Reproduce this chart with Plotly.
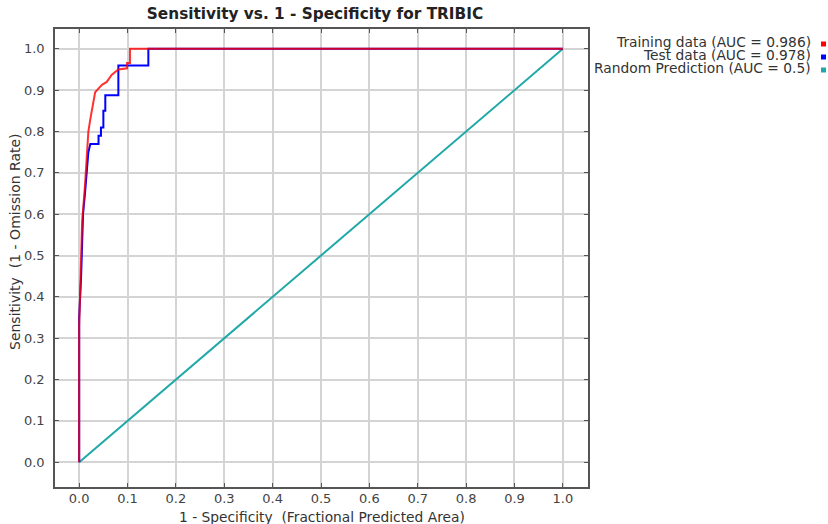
import plotly.graph_objects as go

# Training data ROC (red)
train_fpr = [0.0, 0.0, 0.003, 0.006, 0.012, 0.019, 0.023, 0.026, 0.030, 0.033, 0.037, 0.047,
             0.057, 0.067, 0.081, 0.099, 0.099, 0.105, 0.105, 1.0]
train_tpr = [0.0, 0.33, 0.45, 0.58, 0.67, 0.80, 0.83, 0.85, 0.87, 0.895, 0.90, 0.913,
             0.92, 0.937, 0.95, 0.953, 0.966, 0.966, 1.0, 1.0]

# Test data ROC (blue)
test_fpr = [0.0, 0.0, 0.004, 0.008, 0.012, 0.016, 0.019, 0.023, 0.040, 0.040, 0.045, 0.045,
            0.050, 0.050, 0.054, 0.054, 0.081, 0.081, 0.143, 0.143, 1.0]
test_tpr = [0.0, 0.35, 0.45, 0.60, 0.65, 0.70, 0.75, 0.77, 0.77, 0.79, 0.79, 0.81,
            0.81, 0.85, 0.85, 0.888, 0.888, 0.96, 0.96, 1.0, 1.0]

# Random prediction
rand_x = [0.0, 1.0]
rand_y = [0.0, 1.0]

legend_labels = ["Training data (AUC = 0.986)", "Test data (AUC = 0.978)",
                 "Random Prediction (AUC = 0.5)"]
colors = ["#ff0000", "#0000ff", "#20a8a8"]

tick_vals = [round(i * 0.1, 1) for i in range(11)]
tick_text = [f"{v:.1f}" for v in tick_vals]

fig = go.Figure()
fig.add_trace(go.Scatter(x=rand_x, y=rand_y, mode="lines",
                         line=dict(color=colors[2], width=2), name=legend_labels[2]))
fig.add_trace(go.Scatter(x=test_fpr, y=test_tpr, mode="lines",
                         line=dict(color=colors[1], width=2), name=legend_labels[1]))
fig.add_trace(go.Scatter(x=train_fpr, y=train_tpr, mode="lines", opacity=0.8,
                         line=dict(color=colors[0], width=2), name=legend_labels[0]))

font_family = "DejaVu Sans"
axis_common = dict(
    tickvals=tick_vals, ticktext=tick_text,
    showgrid=True, gridcolor="#d4d4d4", gridwidth=2,
    zeroline=False, automargin=False,
    showline=True, linecolor="#555555", linewidth=1.5, mirror="ticks",
    ticks="inside", ticklen=4, tickcolor="#555555", tickwidth=1,
    tickfont=dict(family=font_family, size=13, color="#444444"),
)

W, H = 828, 524
plot_left, plot_right, plot_top, plot_bottom = 55, 588, 29, 487
pw = plot_right - plot_left
ph = plot_bottom - plot_top


def px_to_paper_x(sx):
    return (sx - plot_left) / pw


def px_to_paper_y(sy):
    return (plot_bottom - sy) / ph


fig.update_layout(
    width=W, height=H,
    margin=dict(l=plot_left, r=W - plot_right, t=plot_top, b=H - plot_bottom),
    paper_bgcolor="white", plot_bgcolor="white",
    showlegend=False,
    title=dict(text="<b>Sensitivity vs. 1 - Specificity for TRIBIC</b>",
               x=315 / W, xanchor="center", y=1 - 14 / H, yanchor="middle",
               font=dict(family=font_family, size=15.3, color="#222222")),
    xaxis=dict(range=[-0.05, 1.052], ticklabelstandoff=-1, **axis_common),
    yaxis=dict(range=[-0.06, 1.048], ticklabelstandoff=6, **axis_common),
)

# Axis titles as annotations so their positions match the reference
fig.add_annotation(xref="paper", yref="paper", x=px_to_paper_x(322), y=px_to_paper_y(516.5),
                   text="1 - Specificity  (Fractional Predicted Area)", showarrow=False,
                   xanchor="center", yanchor="middle",
                   font=dict(family=font_family, size=13.8, color="#333333"))
fig.add_annotation(xref="paper", yref="paper", x=px_to_paper_x(15), y=px_to_paper_y(242),
                   text="Sensitivity  (1 - Omission Rate)", textangle=-90, showarrow=False,
                   xanchor="center", yanchor="middle",
                   font=dict(family=font_family, size=14, color="#333333"))

# Legend drawn on the right: text right-aligned with small colour squares after it
legend_py = [42, 55, 68]
for label, col, py in zip(legend_labels, colors, legend_py):
    yp = px_to_paper_y(py)
    fig.add_annotation(xref="paper", yref="paper", x=px_to_paper_x(813), y=yp,
                       text=label, showarrow=False, xanchor="right", yanchor="middle",
                       font=dict(family=font_family, size=13.8, color="#333333"))
    fig.add_shape(type="rect", xref="paper", yref="paper",
                  x0=px_to_paper_x(821), x1=px_to_paper_x(826),
                  y0=px_to_paper_y(py + 4.5), y1=px_to_paper_y(py - 0.5),
                  fillcolor=col, line=dict(width=0))

fig.write_html(
    "out.html",
    config={"displayModeBar": False},
    post_script="document.body.style.margin='0';document.body.style.overflow='hidden';",
)
